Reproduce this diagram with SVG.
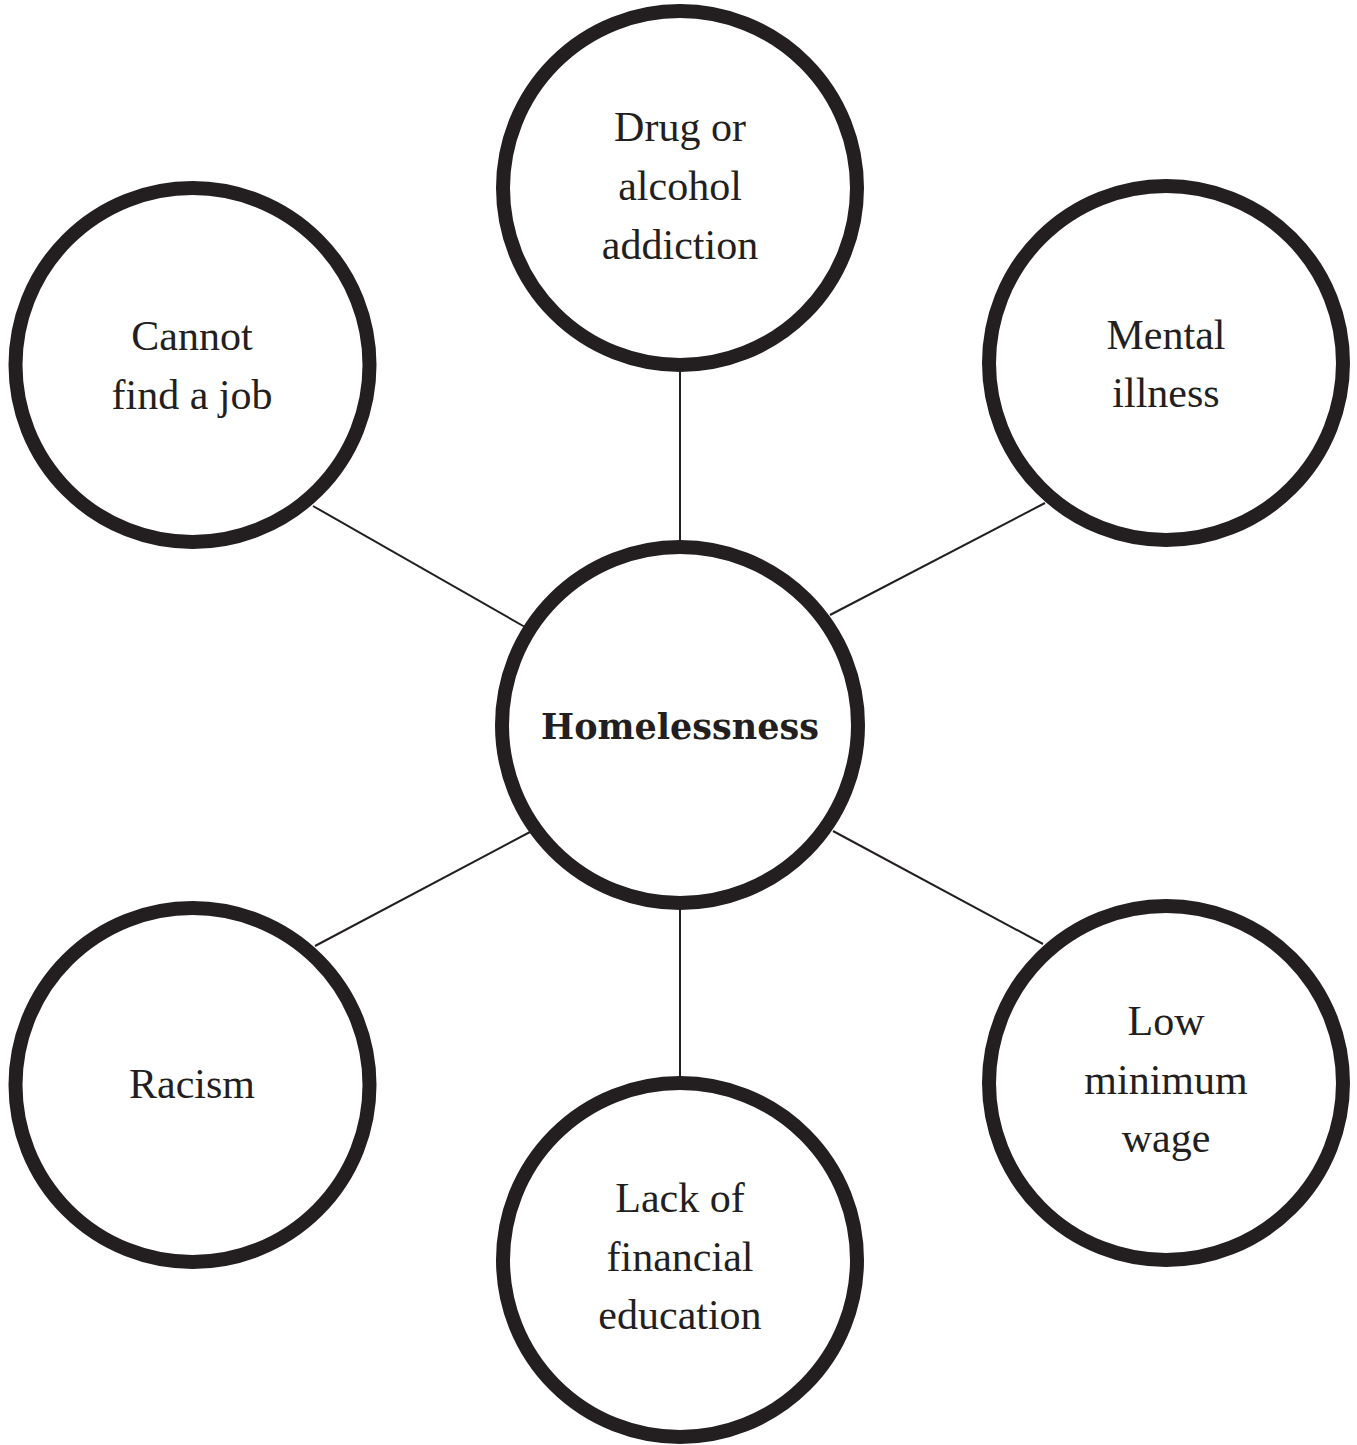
<svg xmlns="http://www.w3.org/2000/svg" width="1357" height="1445" viewBox="0 0 1357 1445">
<style>
.node{fill:#fff;stroke:#231f20;stroke-width:14}
.conn{stroke:#231f20;stroke-width:2;fill:none}
.lbl{font-family:"Liberation Serif","Times New Roman",serif;font-size:42px;fill:#231f20;text-anchor:middle}
.title{font-family:"DejaVu Serif","Liberation Serif",serif;font-size:35px;font-weight:bold;fill:#231f20;text-anchor:middle}
</style>
<rect width="1357" height="1445" fill="#fff"/>
<g id="connectors">
<line class="conn" x1="680" y1="372" x2="680" y2="542"/>
<line class="conn" x1="313" y1="506" x2="525" y2="627"/>
<line class="conn" x1="1045" y1="503" x2="830" y2="615"/>
<line class="conn" x1="530" y1="832" x2="315" y2="946"/>
<line class="conn" x1="833" y1="831" x2="1043" y2="944"/>
<line class="conn" x1="680" y1="908" x2="680" y2="1078"/>
</g>
<g id="node-center">
<circle class="node" cx="680" cy="725" r="178"/>
<text class="title" x="680" y="739">Homelessness</text>
</g>
<g id="node-drug">
<circle class="node" cx="680" cy="188" r="177"/>
<text class="lbl" x="680" y="141">Drug or</text>
<text class="lbl" x="680" y="200">alcohol</text>
<text class="lbl" x="680" y="259">addiction</text>
</g>
<g id="node-job">
<circle class="node" cx="192.5" cy="365" r="177"/>
<text class="lbl" x="192" y="350">Cannot</text>
<text class="lbl" x="192" y="409">find a job</text>
</g>
<g id="node-mental">
<circle class="node" cx="1166" cy="363" r="177"/>
<text class="lbl" x="1166" y="349">Mental</text>
<text class="lbl" x="1166" y="407">illness</text>
</g>
<g id="node-racism">
<circle class="node" cx="192.5" cy="1085" r="177"/>
<text class="lbl" x="192" y="1098">Racism</text>
</g>
<g id="node-wage">
<circle class="node" cx="1166" cy="1083" r="177"/>
<text class="lbl" x="1166" y="1035">Low</text>
<text class="lbl" x="1166" y="1094">minimum</text>
<text class="lbl" x="1166" y="1152">wage</text>
</g>
<g id="node-education">
<circle class="node" cx="680" cy="1260" r="177"/>
<text class="lbl" x="680" y="1212">Lack of</text>
<text class="lbl" x="680" y="1271">financial</text>
<text class="lbl" x="680" y="1329">education</text>
</g>
</svg>
